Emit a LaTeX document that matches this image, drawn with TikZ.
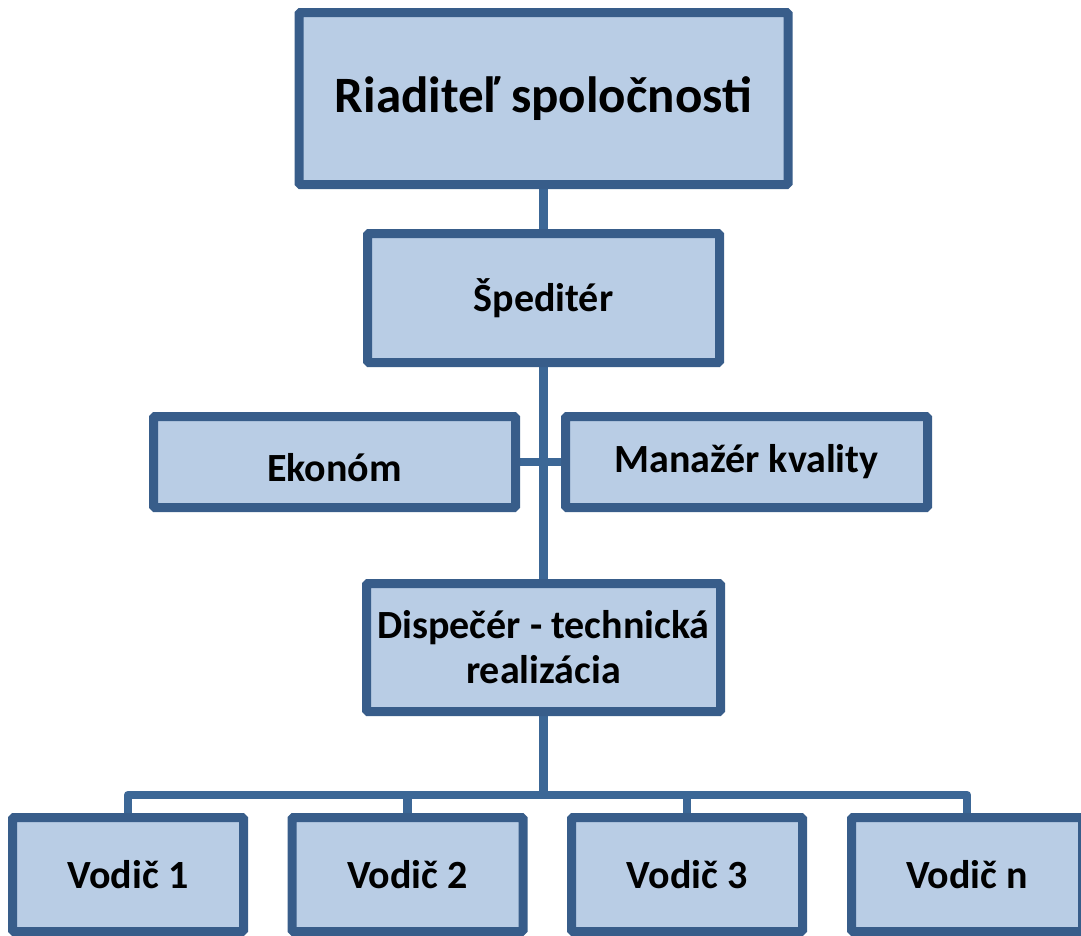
\documentclass[tikz,border=0pt]{standalone}
\usepackage{fontspec}
\setmainfont{Carlito}
\usetikzlibrary{backgrounds}
\definecolor{boxfill}{RGB}{185,205,229}
\definecolor{boxline}{RGB}{56,93,138}
\definecolor{connline}{RGB}{60,103,150}
\tikzset{
  orgbox/.style={draw=boxline, fill=boxfill, line width=9pt, rounded corners=1.5pt,
    inner sep=0pt, outer sep=0pt, align=center, text=black},
  midtext/.style={font=\fontsize{40}{45}\selectfont\bfseries},
  conn/.style={draw=connline, line width=8.5pt}
}
\begin{document}
\begin{tikzpicture}[x=1pt,y=-1pt]
\useasboundingbox (0,0) rectangle (1081,935);
\node[orgbox, minimum width=489pt, minimum height=172pt, font=\fontsize{51}{56}\selectfont\bfseries] (top) at (543.5,98.5) {Riaditeľ spoločnosti};
\node[orgbox, midtext, minimum width=352pt, minimum height=129pt] (sped) at (543.5,298) {Špeditér};
\node[orgbox, midtext, minimum width=362pt, minimum height=91pt] (ekon) at (334.5,462) {\raisebox{-5pt}[\height][0pt]{Ekonóm}};
\node[orgbox, midtext, minimum width=362pt, minimum height=91pt] (man) at (746.5,462) {Manažér kvality};
\node[orgbox, midtext, minimum width=354pt, minimum height=128pt] (disp) at (543.5,647.5) {Dispečér - technická\\realizácia};
\node[orgbox, midtext, minimum width=231pt, minimum height=114pt] (v1) at (128,874.5) {Vodič 1};
\node[orgbox, midtext, minimum width=231pt, minimum height=114pt] (v2) at (407.5,874.5) {Vodič 2};
\node[orgbox, midtext, minimum width=231pt, minimum height=114pt] (v3) at (687,874.5) {Vodič 3};
\node[orgbox, midtext, minimum width=231pt, minimum height=114pt] (vn) at (967,874.5) {Vodič n};
\coordinate (bus) at (543.5,795);
\begin{scope}[on background layer]
\draw[conn] (top.south) -- (sped.north);
\draw[conn] (sped.south) -- (disp.north);
\draw[conn] (ekon.east) -- (man.west);
\draw[conn] (disp.south) -- (bus);
\draw[conn, line join=round] (v1.north) -- (v1.north |- bus) -- (vn.north |- bus) -- (vn.north);
\draw[conn] (v2.north) -- (v2.north |- bus);
\draw[conn] (v3.north) -- (v3.north |- bus);
\end{scope}
\end{tikzpicture}
\end{document}
